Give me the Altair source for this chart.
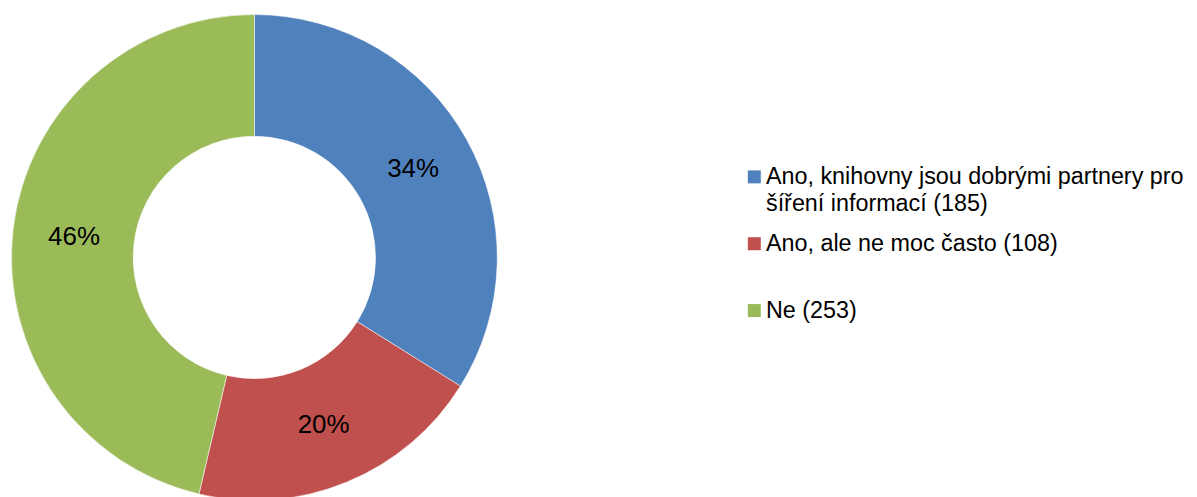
import altair as alt
import pandas as pd

categories = [
    "Ano, knihovny jsou dobrými partnery pro|šíření informací (185)",
    "Ano, ale ne moc často (108)|",
    "Ne (253)",
]
counts = [185, 108, 253]
order_idx = [0, 1, 2]
colors = ["#4F81BD", "#C0504D", "#9BBB59"]

FONT = "Liberation Sans"

df = pd.DataFrame({"kategorie": categories, "pocet": counts, "poradi": order_idx})

base = (
    alt.Chart(df)
    .transform_joinaggregate(total="sum(pocet)")
    .transform_calculate(podil="datum.pocet / datum.total")
)

arcs = base.mark_arc(
    outerRadius=243.5, innerRadius=121.5, stroke="#ffffff", strokeWidth=0.5
).encode(
    theta=alt.Theta("pocet:Q", stack=True),
    color=alt.Color(
        "kategorie:N",
        scale=alt.Scale(domain=categories, range=colors),
        legend=alt.Legend(
            title=None,
            orient="none",
            legendX=736.5,
            legendY=147,
            symbolType="square",
            symbolSize=169,
            symbolStrokeWidth=0,
            labelFontSize=23.4,
            labelFont=FONT,
            labelColor="#000000",
            labelLimit=0,
            labelOffset=0,
            rowPadding=15,
            padding=0,
            labelExpr="split(datum.label, '|')",
        ),
    ),
    order=alt.Order("poradi:Q"),
)

labels = base.mark_text(
    radius=182, fontSize=26, font=FONT, color="#000000"
).encode(
    theta=alt.Theta("pocet:Q", stack=True),
    order=alt.Order("poradi:Q"),
    text=alt.Text("podil:Q", format=".0%"),
)

chart = (
    alt.layer(arcs, labels)
    .properties(
        width=494,
        height=479,
        autosize=alt.AutoSizeParams(type="none"),
        padding={"left": 0, "top": 10, "right": 690, "bottom": 0},
    )
    .configure(
        view={"stroke": None},
        style={"guide-label": {"lineHeight": 27.5}},
    )
)

chart.save("out.html", embed_options={"renderer": "svg", "actions": False})
